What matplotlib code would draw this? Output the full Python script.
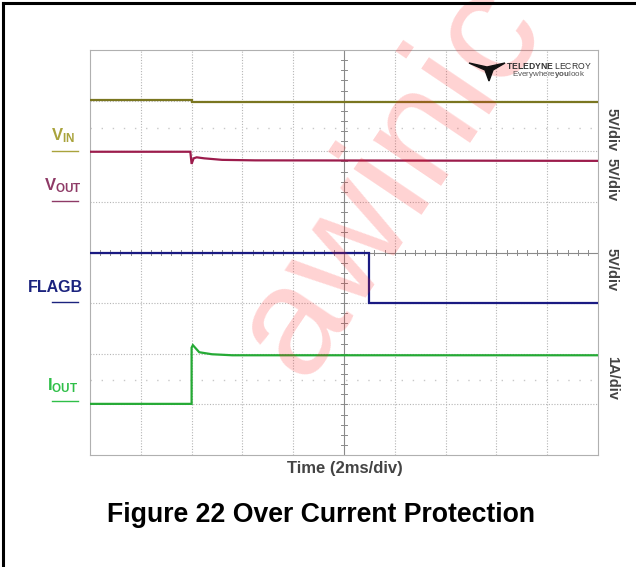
import numpy as np
import matplotlib
matplotlib.use("Agg")
import matplotlib.pyplot as plt
from matplotlib.patches import Polygon

# ===== fontes =====
plt.rcParams['font.family'] = ['Liberation Sans', 'DejaVu Sans']
plt.rcParams['mathtext.fontset'] = 'custom'
plt.rcParams['mathtext.bf'] = 'Liberation Sans:bold'
plt.rcParams['mathtext.rm'] = 'Liberation Sans'

# ================================
# 1. Dados (tempo em ms, amplitude em divisões)
# ================================
t_vin = [0, 4.0, 4.0, 20]
vin = [7.01, 7.01, 6.98, 6.98]

t_vout = [0, 3.95, 4.0, 4.08, 4.2, 4.5, 5.2, 6.5, 20]
vout = [5.99, 5.99, 5.75, 5.86, 5.88, 5.86, 5.83, 5.82, 5.81]

t_flagb = [0, 11.0, 11.0, 20]
flagb = [3.99, 3.99, 3.01, 3.01]

t_iout = [0, 4.0, 4.0, 4.05, 4.3, 4.8, 5.6, 20]
iout = [1.01, 1.01, 2.12, 2.17, 2.03, 1.99, 1.97, 1.97]

trace_names = ["V$\\mathbf{_{IN}}$", "V$\\mathbf{_{OUT}}$", "FLAGB", "I$\\mathbf{_{OUT}}$"]
trace_colors = ["#7a7620", "#9c1c4c", "#1a1a82", "#25aa35"]
label_colors = ["#a9a33c", "#8e3a66", "#1b237e", "#2fbf48"]
label_y = [136, 186, 287, 386]          # pixels a partir do topo
scales = ["5V/div", "5V/div", "5V/div", "1A/div"]
scale_y = [130, 180, 270, 378]

# ================================
# 2. Figura
# ================================
W, H = 636, 567
fig = plt.figure(figsize=(W / 100, H / 100), dpi=100)
ax = fig.add_axes([90 / W, 1 - 455 / H, 508 / W, 405 / H])
ax.set_xlim(0, 20)
ax.set_ylim(0, 8)

# grade pontilhada
for x in np.arange(2, 20, 2):
    if x == 10:
        continue
    ax.axvline(x, color="#b5b5b5", lw=0.8, ls=(0, (1, 1.5)), zorder=1)
for y in np.arange(1, 8, 1):
    if y == 4:
        continue
    ax.axhline(y, color="#b5b5b5", lw=0.8, ls=(0, (1, 1.5)), zorder=1)

# eixos centrais com marcas
ax.axvline(10, color="#8a8a8a", lw=0.8, zorder=1)
ax.axhline(4, color="#8a8a8a", lw=0.8, zorder=1)
for y in np.arange(0.2, 8, 0.2):
    ax.plot([9.9, 10.1], [y, y], color="#8a8a8a", lw=0.7, zorder=1)
for x in np.arange(0.4, 20, 0.4):
    ax.plot([x, x], [3.95, 4.05], color="#8a8a8a", lw=0.7, zorder=1)

# linhas de referência pontilhadas
for y in [6.46, 1.48]:
    ax.axhline(y, color="#c8c8c8", lw=1.0, ls=(0, (1, 7)), zorder=1)

for s in ax.spines.values():
    s.set_color("#b0b0b0")
    s.set_linewidth(0.8)
ax.set_xticks([])
ax.set_yticks([])

# marca d'água
wm = fig.text(390 / W, 1 - 180 / H, "awinic", fontsize=112, color="#ff2020",
              alpha=0.2, rotation=56, ha="center", va="center", zorder=0)
wm.set_clip_on(True)

# ================================
# 3. Sinais
# ================================
series = [(t_vin, vin), (t_vout, vout), (t_flagb, flagb), (t_iout, iout)]
for (tt, yy), c in zip(series, trace_colors):
    ax.plot(tt, yy, color=c, lw=1.6, zorder=3, solid_joinstyle="miter")

# rótulos à esquerda com sublinhado
for name, c, yp in zip(trace_names, label_colors, label_y):
    xc = 63 if name != "FLAGB" else 55
    fig.text(xc / W, 1 - yp / H, name, color=c, fontsize=12 if name != "FLAGB" else 11.5,
             fontweight="bold", ha="center", va="center")
    fig.add_artist(plt.Line2D([52 / W, 78 / W], [1 - (yp + 15) / H] * 2,
                              color=c, lw=1.0))

# escalas à direita
for s, yp in zip(scales, scale_y):
    fig.text(612 / W, 1 - yp / H, s, color="#444444", fontsize=10.5,
             fontweight="bold", rotation=270, ha="center", va="center")

# logo
fig.text(549 / W, 1 - 66 / H, r"$\mathbf{TELEDYNE}$ LECROY", fontsize=6.2,
         color="#333333", ha="center", va="center")
fig.text(549 / W, 1 - 75 / H, r"Everywhere$\mathbf{you}$look", fontsize=5.8,
         color="#555555", ha="center", va="center")
logo = [[469, 63], [487, 67], [505, 63], [493, 70], [489, 81], [485, 70]]
fig.add_artist(Polygon([[x / W, 1 - y / H] for x, y in logo],
                       closed=True, color="#111111", transform=fig.transFigure))

# textos inferiores
fig.text(345 / W, 1 - 469 / H, "Time (2ms/div)", fontsize=12, fontweight="bold",
         color="#444444", ha="center", va="center")
fig.text(321 / W, 1 - 515 / H, "Figure 22 Over Current Protection", fontsize=19.2,
         fontweight="bold", color="black", ha="center", va="center")

# moldura da página
fig.add_artist(plt.Line2D([3 / W, 1], [1 - 3 / H] * 2, color="black", lw=2.2))
fig.add_artist(plt.Line2D([3 / W, 3 / W], [0, 1 - 3 / H], color="black", lw=2.2))

fig.savefig("out.png", dpi=100)
